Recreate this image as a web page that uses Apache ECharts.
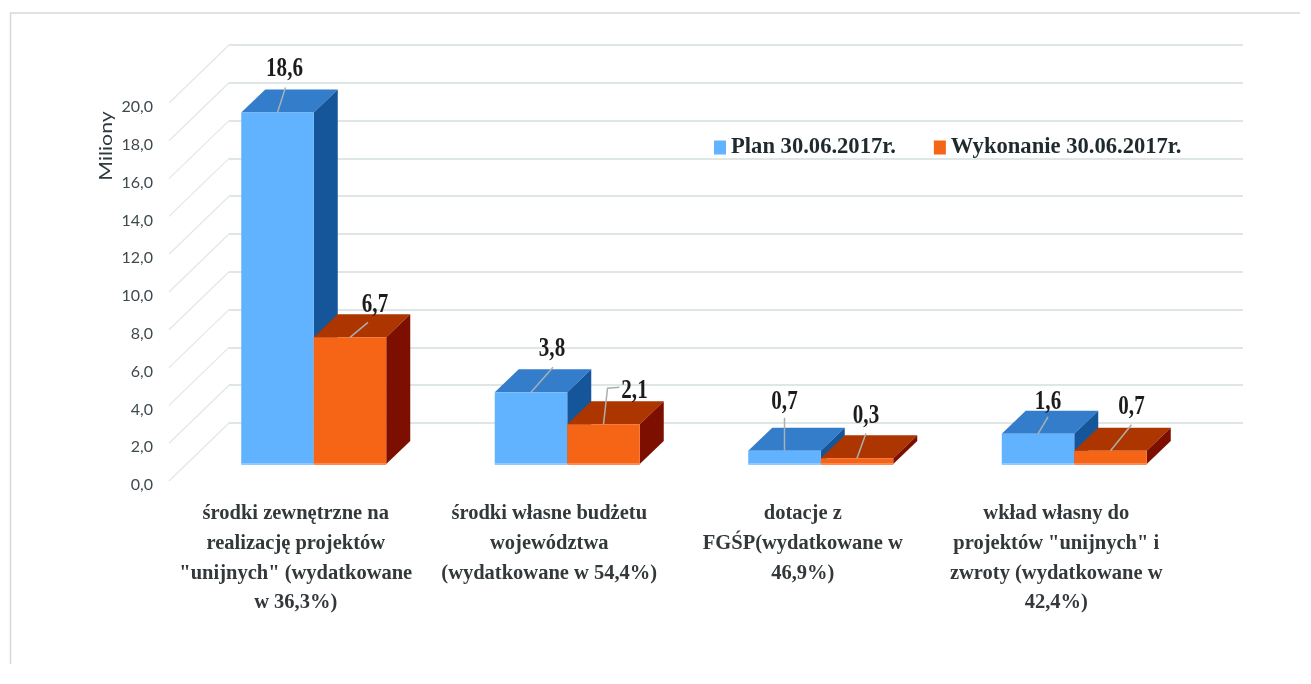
<!DOCTYPE html>
<html>
<head>
<meta charset="utf-8">
<title>Plan i wykonanie</title>
<style>
  html, body { margin: 0; padding: 0; background: #fff; }
  #chart { width: 1311px; height: 684px; }
</style>
<script src="https://cdn.jsdelivr.net/npm/echarts@6/dist/echarts.min.js"></script>
</head>
<body>
<div id="chart"></div>
<script>
// dane
const categories = [
  'środki zewnętrzne na\nrealizację projektów\n"unijnych" (wydatkowane\nw 36,3%)',
  'środki własne budżetu\nwojewództwa\n(wydatkowane w 54,4%)',
  'dotacje z\nFGŚP(wydatkowane w\n46,9%)',
  'wkład własny do\nprojektów "unijnych" i\nzwroty (wydatkowane w\n42,4%)'
]
const planName = 'Plan 30.06.2017r.'
const wykonanieName = 'Wykonanie 30.06.2017r.'
const planValues = [18.6, 3.8, 0.7, 1.6]
const wykonanieValues = [6.7, 2.1, 0.3, 0.7]
const yTicks = [0, 2, 4, 6, 8, 10, 12, 14, 16, 18, 20]

// uklad linii odniesienia i etykiet, wzgledem srodka gornej krawedzi slupka
const planLeaders = [[[8, -25]], [[22, -25]], [[0, -33]], [[10, -17]]]
const planLabels = [[7, -43], [21, -43], [0, -49], [10, -32]]
const wykonanieLeaders = [[[18, -15]], [[4, -36], [16, -37]], [[9, -25]], [[21, -26]]]
const wykonanieLabels = [[25, -32], [31, -33], [9, -42], [21, -44]]

// rzut ukosny "3D": sciana tylna to siatka wykresu
const WALL_DX = -60, WALL_DY = 58
const FLOOR_DX = -42, FLOOR_DY = 41
const DEPTH_DX = 24, DEPTH_DY = -23
const BAR_RATIO = 0.286
const TICK_LABEL_DROP = 4

const SERIF = '"Liberation Serif", serif'

function fmt(v) {
  return v.toFixed(1).replace('.', ',')
}

function barRender(side, colors, leaders, labels) {
  return function (params, api) {
    const i = api.value(0)
    const base = api.coord([i, 0])
    const top = api.coord([i, api.value(1)])
    const w = api.size([1, 0])[0] * BAR_RATIO
    const x0 = base[0] + FLOOR_DX + (side < 0 ? -w : 0)
    const x1 = x0 + w
    const y0 = base[1] + FLOOR_DY
    const y1 = top[1] + FLOOR_DY
    const cx = (x0 + x1) / 2
    const leaderPts = [[cx, y1]].concat(leaders[i].map(p => [cx + p[0], y1 + p[1]]))
    return {
      type: 'group',
      children: [
        { type: 'polygon', shape: { points: [[x0, y1], [x1, y1], [x1 + DEPTH_DX, y1 + DEPTH_DY], [x0 + DEPTH_DX, y1 + DEPTH_DY]] }, style: { fill: colors.top } },
        { type: 'polygon', shape: { points: [[x1, y0], [x1, y1], [x1 + DEPTH_DX, y1 + DEPTH_DY], [x1 + DEPTH_DX, y0 + DEPTH_DY]] }, style: { fill: colors.side } },
        { type: 'rect', shape: { x: x0, y: y1, width: w, height: y0 - y1 }, style: { fill: colors.front } },
        { type: 'rect', shape: { x: x0, y: y0 - 1, width: w, height: 2 }, style: { fill: colors.base } },
        { type: 'polyline', shape: { points: leaderPts }, style: { fill: 'none', stroke: '#a9b0b0', lineWidth: 1.5 } },
        {
          type: 'text',
          x: cx + labels[i][0],
          y: y1 + labels[i][1],
          scaleX: 0.78,
          style: {
            text: fmt(api.value(1)),
            fontFamily: SERIF,
            fontWeight: 'bold',
            fontSize: 27,
            fill: '#1c1c1c',
            align: 'center',
            verticalAlign: 'middle'
          }
        }
      ]
    }
  }
}

const blue = { front: '#61b3ff', top: '#337dcb', side: '#15569b', base: '#90caff' }
const orange = { front: '#f66515', top: '#ad3500', side: '#7d0f00', base: '#f98c55' }

const chart = echarts.init(document.getElementById('chart'))
chart.setOption({
  animation: false,
  backgroundColor: '#fff',
  // grid 0 = sciana tylna z siatka, grid 1 = przednia krawedz z opisem osi
  grid: [
    { left: 229, right: 68, top: 45, bottom: 261 },
    { left: 229 + WALL_DX, right: 68 - WALL_DX, top: 45 + WALL_DY + TICK_LABEL_DROP, bottom: 261 - WALL_DY - TICK_LABEL_DROP }
  ],
  legend: {
    left: 709,
    top: 131,
    icon: 'rect',
    itemWidth: 12,
    itemHeight: 14,
    itemGap: 38,
    textStyle: { fontFamily: SERIF, fontWeight: 'bold', fontSize: 22.6, color: '#1f2a2e' },
    data: [planName, wykonanieName]
  },
  graphic: [
    { type: 'polyline', silent: true, shape: { points: [[1300, 13], [10.5, 13], [10.5, 664]] }, style: { fill: 'none', stroke: '#d8d8d8', lineWidth: 1.5 } },
    {
      type: 'text',
      x: 107,
      y: 146,
      rotation: Math.PI / 2,
      scaleX: 1.25,
      style: { text: 'Miliony', fontFamily: 'Lato', fontSize: 17, fill: '#2f3a3e', align: 'center', verticalAlign: 'middle' }
    }
  ],
  xAxis: [
    {
      type: 'category',
      data: categories,
      axisLine: { show: false },
      axisTick: { show: false },
      axisLabel: {
        interval: 0,
        margin: 76,
        formatter: function (value) {
          return value.split('\n').map(l => '{c|' + l + '}').join('\n')
        },
        rich: {
          c: {
            fontFamily: SERIF,
            fontWeight: 'bold',
            fontSize: 20.5,
            lineHeight: 29.7,
            color: '#33393b',
            padding: [0, -2 * WALL_DX, 0, 0]
          }
        }
      }
    },
    { type: 'category', gridIndex: 1, data: categories, show: false }
  ],
  yAxis: [
    {
      type: 'value',
      min: 0,
      max: 20,
      interval: 2,
      axisLine: { show: false },
      axisTick: { show: false },
      axisLabel: { show: false },
      splitLine: { lineStyle: { color: '#dfe6e6', width: 2 } }
    },
    {
      type: 'value',
      gridIndex: 1,
      min: 0,
      max: 20,
      interval: 2,
      axisLine: { show: false },
      axisTick: { show: false },
      splitLine: { show: false },
      axisLabel: {
        margin: 16,
        fontFamily: 'Lato',
        fontSize: 16,
        color: '#3f4a4e',
        formatter: function (v) { return fmt(v) }
      }
    }
  ],
  series: [
    {
      // linie sciany bocznej
      type: 'custom',
      silent: true,
      data: yTicks.map(v => [0, v]),
      encode: { x: 0, y: 1 },
      renderItem: function (params, api) {
        const y = api.coord([0, api.value(1)])[1]
        const x = params.coordSys.x
        return {
          type: 'line',
          shape: { x1: x, y1: y, x2: x + WALL_DX, y2: y + WALL_DY },
          style: { stroke: '#e2e7e7', lineWidth: 1.2 }
        }
      }
    },
    {
      name: planName,
      type: 'custom',
      itemStyle: { color: blue.front },
      data: planValues.map((v, i) => [i, v]),
      encode: { x: 0, y: 1 },
      renderItem: barRender(-1, blue, planLeaders, planLabels)
    },
    {
      name: wykonanieName,
      type: 'custom',
      itemStyle: { color: orange.front },
      data: wykonanieValues.map((v, i) => [i, v]),
      encode: { x: 0, y: 1 },
      renderItem: barRender(1, orange, wykonanieLeaders, wykonanieLabels)
    }
  ]
})
</script>
</body>
</html>
